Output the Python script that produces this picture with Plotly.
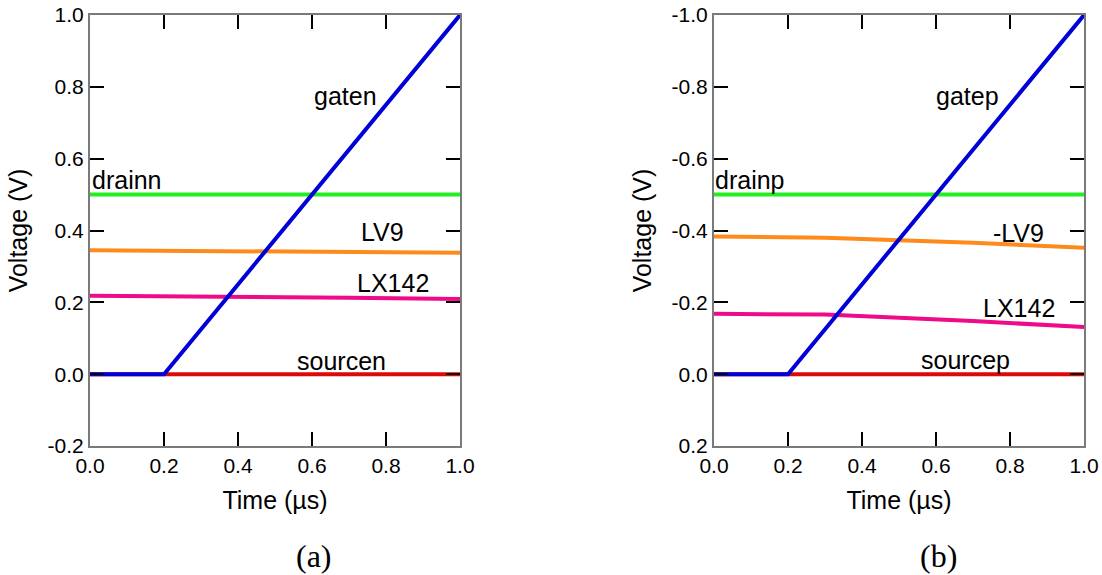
import plotly.graph_objects as go

# ---- data ----
time_pts = [0.0, 0.2, 1.0]
time_flat = [0.0, 0.3, 0.7, 1.0]

# panel (a) NMOS
gaten = [0.0, 0.0, 1.0]
drainn = [0.5, 0.5, 0.5, 0.5]
lv9_n = [0.345, 0.343, 0.340, 0.338]
lx142_n = [0.218, 0.217, 0.213, 0.209]
sourcen = [0.0, 0.0, 0.0, 0.0]

# panel (b) PMOS (plotted on a reversed axis)
gatep = [0.0, 0.0, -1.0]
drainp = [-0.5, -0.5, -0.5, -0.5]
lv9_p = [-0.383, -0.380, -0.366, -0.352]
lx142_p = [-0.168, -0.166, -0.148, -0.131]
sourcep = [0.0, 0.0, 0.0, 0.0]

x_ticks = [0.0, 0.2, 0.4, 0.6, 0.8, 1.0]
x_ticktext = ["0.0", "0.2", "0.4", "0.6", "0.8", "1.0"]
ya_ticks = [-0.2, 0.0, 0.2, 0.4, 0.6, 0.8, 1.0]
ya_ticktext = ["-0.2", "0.0", "0.2", "0.4", "0.6", "0.8", "1.0"]
yb_ticks = [0.2, 0.0, -0.2, -0.4, -0.6, -0.8, -1.0]
yb_ticktext = ["0.2", "0.0", "-0.2", "-0.4", "-0.6", "-0.8", "-1.0"]

labels_a = ["gaten", "drainn", "LV9", "LX142", "sourcen"]
labels_b = ["gatep", "drainp", "-LV9", "LX142", "sourcep"]

BLUE = "#0000D8"
GREEN = "#22EE22"
ORANGE = "#FF8A1C"
PINK = "#EE0A88"
RED = "#DD0808"
LW = 4

W, H = 1102, 575

fig = go.Figure()

def add_panel(xa, ya, gate, drain, lv9, lx, src):
    for y, c in [(src, RED), (drain, GREEN), (lv9, ORANGE), (lx, PINK)]:
        fig.add_trace(go.Scatter(x=time_flat, y=y, mode="lines",
                                 line=dict(color=c, width=LW),
                                 xaxis=xa, yaxis=ya, showlegend=False))
    fig.add_trace(go.Scatter(x=time_pts, y=gate, mode="lines",
                             line=dict(color=BLUE, width=LW),
                             xaxis=xa, yaxis=ya, showlegend=False))

add_panel("x", "y", gaten, drainn, lv9_n, lx142_n, sourcen)
add_panel("x2", "y2", gatep, drainp, lv9_p, lx142_p, sourcep)

FONT = "Liberation Sans, Arial, sans-serif"
TICKF = dict(family=FONT, size=21, color="black")
TITLEF = dict(family=FONT, size=25, color="black")

axis_common = dict(
    showgrid=False, zeroline=False, showline=True, linecolor="#7a7a7a",
    linewidth=2, mirror="ticks", ticks="inside", ticklen=14, tickwidth=1.5,
    tickcolor="black", tickfont=TICKF, tickmode="array", automargin=False,
    ticklabeloverflow="allow",
)

def xd(a, b):
    return [a / W, b / W]

ydom = [1 - 446 / H, 1 - 15 / H]

fig.update_layout(
    width=W, height=H,
    margin=dict(l=0, r=0, t=0, b=0),
    paper_bgcolor="white", plot_bgcolor="white",
    xaxis=dict(domain=xd(90, 460), range=[0, 1], tickvals=x_ticks,
               ticktext=x_ticktext, anchor="y",
               title=dict(text="Time (µs)", font=TITLEF, standoff=15),
               **axis_common),
    yaxis=dict(domain=ydom, range=[-0.2, 1.0], tickvals=ya_ticks,
               ticktext=ya_ticktext, anchor="x",
               title=dict(text="Voltage (V)", font=TITLEF, standoff=13),
               **axis_common),
    xaxis2=dict(domain=xd(714, 1084), range=[0, 1], tickvals=x_ticks,
                ticktext=x_ticktext, anchor="y2",
                title=dict(text="Time (µs)", font=TITLEF, standoff=15),
                **axis_common),
    yaxis2=dict(domain=ydom, range=[0.2, -1.0], tickvals=yb_ticks,
                ticktext=yb_ticktext, anchor="x2",
                title=dict(text="Voltage (V)", font=TITLEF, standoff=13),
                **axis_common),
)

LABF = dict(family=FONT, size=25, color="black")
pos_a = [(0.69, 0.775), (0.1, 0.54), (0.79, 0.395), (0.82, 0.253), (0.68, 0.037)]
pos_b = [(0.686, -0.775), (0.097, -0.54), (0.824, -0.393), (0.824, -0.184), (0.68, -0.04)]
for t, (px, py) in zip(labels_a, pos_a):
    fig.add_annotation(x=px, y=py, xref="x", yref="y", text=t, showarrow=False,
                       font=LABF)
for t, (px, py) in zip(labels_b, pos_b):
    fig.add_annotation(x=px, y=py, xref="x2", yref="y2", text=t, showarrow=False,
                       font=LABF)

CAPF = dict(family="Liberation Serif, Times New Roman, serif", size=32, color="black")
fig.add_annotation(x=314 / W, y=1 - 556 / H, xref="paper", yref="paper",
                   xanchor="center", yanchor="middle",
                   text="(a)", showarrow=False, font=CAPF)
fig.add_annotation(x=938 / W, y=1 - 556 / H, xref="paper", yref="paper",
                   xanchor="center", yanchor="middle",
                   text="(b)", showarrow=False, font=CAPF)

# remove the default 8px page margin so the figure fills the window exactly
fig.write_html("out.html",
               config={"displayModeBar": False},
               post_script="document.body.style.margin='0';document.body.style.overflow='hidden';")
